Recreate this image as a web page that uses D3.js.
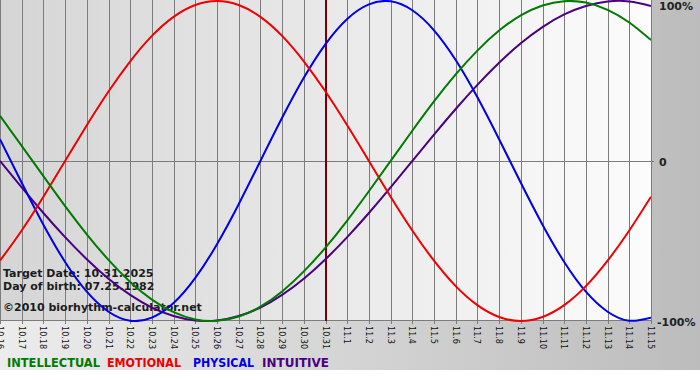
<!DOCTYPE html>
<html>
<head>
<meta charset="utf-8">
<script src="https://cdn.jsdelivr.net/npm/d3@7"></script>
<style>
html,body{margin:0;padding:0;background:#fff;}
svg{display:block;}
</style>
</head>
<body>
<svg id="chart" width="700" height="380"></svg>
<script>
// ---- data (values in %) ----
const days = ["10.16","10.17","10.18","10.19","10.20","10.21","10.22","10.23","10.24","10.25","10.26","10.27","10.28","10.29","10.30","10.31",
  "11.1","11.2","11.3","11.4","11.5","11.6","11.7","11.8","11.9","11.10","11.11","11.12","11.13","11.14","11.15"];
const intellectual = [28.2,9.5,-9.5,-28.2,-45.8,-61.8,-75.6,-86.6,-94.5,-99.0,-99.9,-97.2,-91.0,-81.5,-69.0,-54.1,
  -37.2,-18.9,0,18.9,37.2,54.1,69.0,81.5,91.0,97.2,99.9,99.0,94.5,86.6,75.6];
const emotional = [-62.3,-43.4,-22.3,0,22.3,43.4,62.3,78.2,90.1,97.5,100,97.5,90.1,78.2,62.3,43.4,
  22.3,0,-22.3,-43.4,-62.3,-78.2,-90.1,-97.5,-100,-97.5,-90.1,-78.2,-62.3,-43.4,-22.3];
const physical = [13.6,-13.6,-39.8,-63.1,-81.7,-94.2,-99.8,-97.9,-88.8,-73.1,-52.0,-27.0,0,27.0,52.0,73.1,
  88.8,97.9,99.8,94.2,81.7,63.1,39.8,13.6,-13.6,-39.8,-63.1,-81.7,-94.2,-99.8,-97.9];
const intuitive = [0,-16.5,-32.5,-47.6,-61.4,-73.6,-83.7,-91.6,-96.9,-99.7,-99.7,-96.9,-91.6,-83.7,-73.6,-61.4,
  -47.6,-32.5,-16.5,0,16.5,32.5,47.6,61.4,73.6,83.7,91.6,96.9,99.7,99.7,96.9];
const seriesNames = ["INTELLECTUAL","EMOTIONAL","PHYSICAL","INTUITIVE"];
const yTickLabels = ["100%","0","-100%"];
const yTickValues = [100,0,-100];
const targetDay = "10.31";
const infoLines = ["Target Date: 10.31.2025","Day of birth: 07.25.1982","\u00a92010 biorhythm-calculator.net"];

// ---- layout ----
const W = 700, H = 380;
const plot = {left:0, right:651, top:1, bottom:321};
const legendX = [7, 107, 193, 262];
const legendW = [93, 74, 61, 67];
const colors = {INTELLECTUAL:"#007a00", EMOTIONAL:"#ee0000", PHYSICAL:"#0000e6", INTUITIVE:"#4b0080"};
const seriesData = {INTELLECTUAL:intellectual, EMOTIONAL:emotional, PHYSICAL:physical, INTUITIVE:intuitive};

const svg = d3.select("#chart");
const defs = svg.append("defs");
const g1 = defs.append("linearGradient").attr("id","outerBg").attr("x1","0").attr("x2","1").attr("y1","0").attr("y2","0");
g1.append("stop").attr("offset","0").attr("stop-color","#ececec");
g1.append("stop").attr("offset","1").attr("stop-color","#bcbcbc");
const g2 = defs.append("linearGradient").attr("id","plotBg").attr("x1","0").attr("x2","1").attr("y1","0").attr("y2","0");
g2.append("stop").attr("offset","0").attr("stop-color","#d5d5d5");
g2.append("stop").attr("offset","1").attr("stop-color","#fcfcfc");
defs.append("clipPath").attr("id","plotClip").append("rect")
  .attr("x",plot.left).attr("y",0).attr("width",plot.right-plot.left).attr("height",plot.bottom+1);

svg.append("rect").attr("x",0).attr("y",0).attr("width",W).attr("height",370).attr("fill","url(#outerBg)");
svg.append("rect").attr("x",plot.left).attr("y",0).attr("width",plot.right-plot.left).attr("height",plot.bottom)
  .attr("fill","url(#plotBg)");

const x = d3.scalePoint().domain(days).range([plot.left, plot.right]).padding(0);
const y = d3.scaleLinear().domain([-100,100]).range([plot.bottom, plot.top]);

// vertical grid lines
svg.append("g").selectAll("line").data(days).join("line")
  .attr("x1",d=>Math.round(x(d))+0.5).attr("x2",d=>Math.round(x(d))+0.5)
  .attr("y1",0).attr("y2",plot.bottom+3)
  .attr("stroke","#7c7c7c").attr("stroke-width",1);

// zero line and bottom axis line
svg.append("line").attr("x1",plot.left).attr("x2",plot.right+3)
  .attr("y1",Math.round(y(0))+0.5).attr("y2",Math.round(y(0))+0.5)
  .attr("stroke","#7c7c7c");
svg.append("line").attr("x1",plot.left).attr("x2",plot.right+1)
  .attr("y1",plot.bottom-0.5).attr("y2",plot.bottom-0.5)
  .attr("stroke","#7c7c7c");

// x tick labels (rotated)
svg.append("g").selectAll("text").data(days).join("text")
  .attr("transform",d=>`translate(${Math.round(x(d))+0.5},${plot.bottom+5}) rotate(90)`)
  .attr("dy","0.36em")
  .attr("font-family","'DejaVu Sans Condensed','DejaVu Sans',sans-serif")
  .attr("font-size","9px")
  .attr("fill","#111")
  .text(d=>d);

// y labels at right
svg.append("g").selectAll("text").data(yTickValues).join("text")
  .attr("x",(d,i)=> d<0 ? plot.right+6 : plot.right+8)
  .attr("y",d=> d===100 ? y(d)+9 : y(d)+5)
  .attr("font-family","'DejaVu Sans',Verdana,sans-serif")
  .attr("font-weight","bold").attr("font-size","11px").attr("fill","#222")
  .text((d,i)=>yTickLabels[i]);

// info text
svg.append("g").selectAll("text").data(infoLines).join("text")
  .attr("x",3).attr("y",(d,i)=>[277,290,311][i])
  .attr("font-family","'DejaVu Sans',Verdana,sans-serif")
  .attr("font-weight","bold").attr("font-size","11px").attr("fill","#1c1c1c")
  .text(d=>d);

// target day line
svg.append("line").attr("x1",x(targetDay)+0.5).attr("x2",x(targetDay)+0.5)
  .attr("y1",0).attr("y2",plot.bottom)
  .attr("stroke","#7a0000").attr("stroke-width",2);

// curves
const line = d3.line().x((d,i)=>x(days[i])).y(d=>y(d)).curve(d3.curveNatural);
const curves = svg.append("g").attr("clip-path","url(#plotClip)");
["INTUITIVE","PHYSICAL","EMOTIONAL","INTELLECTUAL"].forEach(name=>{
  curves.append("path").attr("d",line(seriesData[name]))
    .attr("fill","none").attr("stroke",colors[name]).attr("stroke-width",2);
});

// legend
svg.append("g").selectAll("text").data(seriesNames).join("text")
  .attr("x",(d,i)=>legendX[i]).attr("y",366.5)
  .attr("textLength",(d,i)=>legendW[i]).attr("lengthAdjust","spacingAndGlyphs")
  .attr("font-family","'DejaVu Sans',Verdana,sans-serif")
  .attr("font-weight","bold").attr("font-size","12px")
  .attr("fill",d=>colors[d]).text(d=>d);
</script>
</body>
</html>
